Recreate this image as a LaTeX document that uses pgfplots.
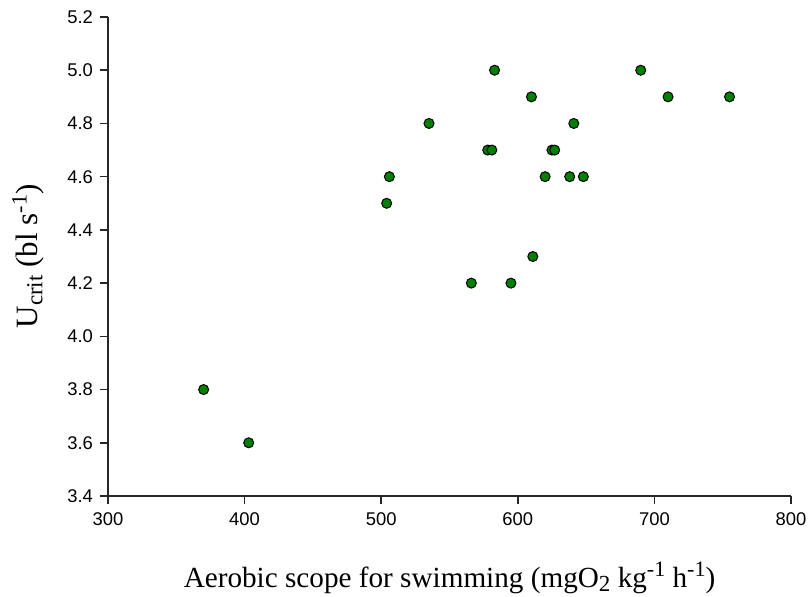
\documentclass[border=0pt]{standalone}
\usepackage{fontspec}
\setmainfont{Liberation Sans}
\newfontfamily\labelfont{Liberation Serif}
\usepackage{pgfplots}
\pgfplotsset{compat=1.18}
\definecolor{ptgreen}{RGB}{0,128,0}
\newcommand{\mysub}[1]{\raisebox{-0.35ex}{\fontsize{11.5}{12}\selectfont #1}}
\newcommand{\mysup}[1]{\raisebox{0.75ex}{\fontsize{11}{12}\selectfont #1}}
\begin{document}
\begin{tikzpicture}
\useasboundingbox (-54pt,-50pt) rectangle (351pt,248pt);
\begin{axis}[
  scale only axis,
  width=341.5pt, height=239.5pt,
  xmin=300, xmax=800, ymin=3.4, ymax=5.2,
  xtick={300,400,...,800},
  ytick={3.4,3.6,...,5.2},
  yticklabel style={/pgf/number format/.cd,fixed,fixed zerofill,precision=1},
  /pgf/number format/assume math mode=true,
  axis x line*=bottom, axis y line*=left,
  axis line style={-, line width=0.8pt, black!85},
  tick align=outside, major tick length=4pt,
  tick style={black!85, line width=0.8pt},
  tick label style={font=\fontsize{9.2}{11}\selectfont},
  xticklabel style={yshift=-1pt},
  xlabel={\labelfont\fontsize{14.6}{16}\selectfont Aerobic scope for swimming (mgO\mysub{2} kg\mysup{-1} h\mysup{-1})},
  ylabel={\labelfont\fontsize{15.5}{17}\selectfont U\mysub{crit} (bl s\mysup{-1})},
  xlabel style={at={(axis description cs:0.5,-0.171)}, anchor=center},
  ylabel style={at={(axis description cs:-0.117,0.5)}, anchor=center},
  clip=false,
]
\addplot[only marks, mark=*, mark size=2.5pt, mark options={fill=ptgreen, draw=black, line width=0.5pt}] coordinates {
(370,3.8) (403,3.6)
(535,4.8) (506,4.6) (504,4.5)
(583,5.0) (690,5.0)
(610,4.9) (710,4.9) (755,4.9)
(641,4.8)
(578,4.7) (581,4.7) (625,4.7) (627,4.7)
(620,4.6) (638,4.6) (648,4.6)
(611,4.3)
(566,4.2) (595,4.2)
};
\end{axis}
\end{tikzpicture}
\end{document}
